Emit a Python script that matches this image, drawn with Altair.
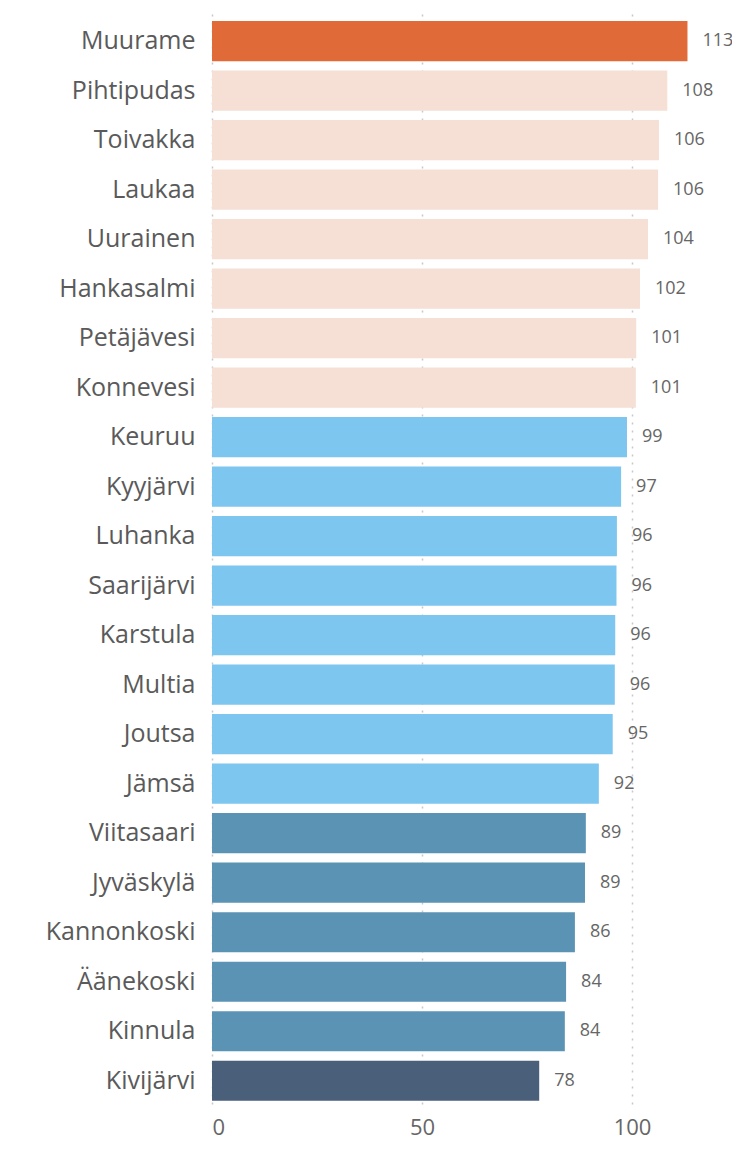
import altair as alt
import pandas as pd

names = ["Muurame", "Pihtipudas", "Toivakka", "Laukaa", "Uurainen", "Hankasalmi",
         "Petäjävesi", "Konnevesi", "Keuruu", "Kyyjärvi", "Luhanka", "Saarijärvi",
         "Karstula", "Multia", "Joutsa", "Jämsä", "Viitasaari", "Jyväskylä",
         "Kannonkoski", "Äänekoski", "Kinnula", "Kivijärvi"]
values = [113.2, 108.4, 106.4, 106.2, 103.8, 101.9, 101.0, 100.9, 98.8, 97.4, 96.4,
          96.3, 96.0, 95.9, 95.4, 92.1, 89.0, 88.8, 86.4, 84.3, 84.0, 77.9]
groups = ["top"] + ["high"] * 7 + ["mid"] * 8 + ["low"] * 5 + ["bottom"]
group_names = ["top", "high", "mid", "low", "bottom"]
group_colors = ["#E06B38", "#F6DFD4", "#7DC6F0", "#5B93B4", "#4A5F7A"]
x_ticks = [0, 50, 100]

df = pd.DataFrame({"name": names, "value": values, "group": groups})

FONT = "Open Sans"

base = alt.Chart(df).encode(
    y=alt.Y("name:N", sort=names, title=None,
            scale=alt.Scale(paddingInner=0.19, paddingOuter=0.165, align=0.8),
            axis=alt.Axis(ticks=False, domain=False, labelFont=FONT, labelFontSize=25,
                          labelColor="#5a5a5a", labelPadding=17, grid=False)),
)

bars = base.mark_bar().encode(
    x=alt.X("value:Q", title=None,
            scale=alt.Scale(domain=[0, 123.8], nice=False),
            axis=alt.Axis(values=x_ticks, ticks=False, domain=False, labelFont=FONT,
                          labelFontSize=22, labelColor="#666666", labelPadding=13,
                          grid=True, gridColor="#c8c8c8", gridDash=[2, 6],
                          gridWidth=1.5)),
    color=alt.Color("group:N", scale=alt.Scale(domain=group_names, range=group_colors),
                    legend=None),
)

labels = base.mark_text(align="left", baseline="middle", dx=15, font=FONT,
                        fontSize=18, color="#666666").encode(
    x=alt.X("value:Q"),
    text=alt.Text("value:Q", format=".0f"),
)

chart = (bars + labels).properties(
    width=520, height=1096,
    autosize=alt.AutoSizeParams(type="none"),
    padding={"left": 204, "top": 0, "right": 0, "bottom": 39},
).configure_view(stroke=None)

chart.save("out.html", embed_options={"renderer": "svg", "actions": False})
